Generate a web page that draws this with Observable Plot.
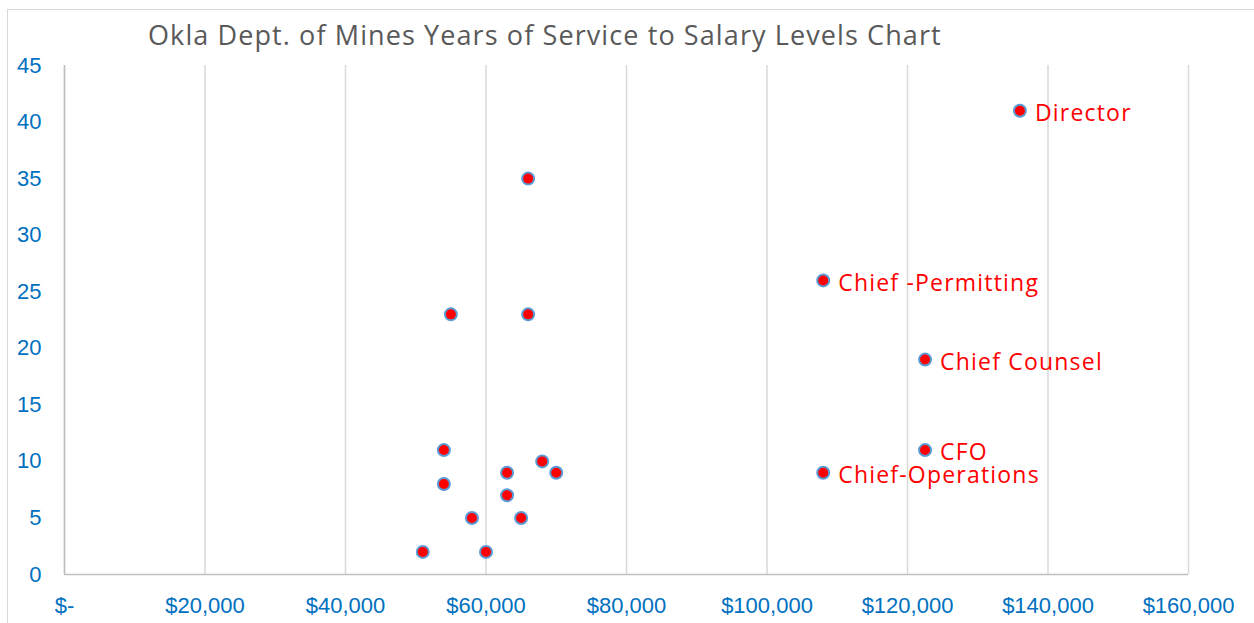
<!DOCTYPE html>
<html>
<head>
<meta charset="utf-8">
<script src="https://cdn.jsdelivr.net/npm/d3@7"></script>
<script src="https://cdn.jsdelivr.net/npm/@observablehq/plot@0.6"></script>
<style>
  html, body { margin: 0; padding: 0; background: #fff; overflow: hidden; }
  #frame { position: absolute; left: 7px; top: 9px; width: 1260px; height: 630px; border: 1px solid #d9d9d9; box-sizing: border-box; }
  #wrap { position: relative; width: 1254px; height: 623px; }
  #title { height: 50px; box-sizing: border-box; padding-left: 148px; padding-top: 19px; font-family: "Open Sans", sans-serif; font-size: 27px; letter-spacing: 1.1px; line-height: 32px; color: #595959; white-space: nowrap; }
  #chart svg { display: block; }
</style>
</head>
<body>
<div id="wrap">
  <div id="frame"></div>
  <div id="title">Okla Dept. of Mines Years of Service to Salary Levels Chart</div>
  <div id="chart"></div>
</div>
<script>
// Data
const salaries = [51000, 60000, 58000, 65000, 63000, 54000, 63000, 70000, 68000, 54000, 55000, 66000, 66000, 108000, 122500, 122500, 108000, 136000];
const years    = [2, 2, 5, 5, 7, 8, 9, 9, 10, 11, 23, 23, 35, 9, 11, 19, 26, 41];
const labels   = ["", "", "", "", "", "", "", "", "", "", "", "", "", "Chief-Operations", "CFO", "Chief Counsel", "Chief -Permitting", "Director"];
const xTicks = [0, 20000, 40000, 60000, 80000, 100000, 120000, 140000, 160000];
const yTicks = [0, 5, 10, 15, 20, 25, 30, 35, 40, 45];

const data = salaries.map((s, i) => ({salary: s, years: years[i], label: labels[i]}));
const fmtX = v => v === 0 ? "$-" : "$" + d3.format(",")(v);

const chart = Plot.plot({
  width: 1254,
  height: 573,
  marginLeft: 64,
  marginRight: 66,
  marginTop: 15,
  marginBottom: 49,
  style: {background: "transparent", overflow: "visible"},
  x: {domain: [0, 160000], ticks: xTicks, tickFormat: fmtX, label: null},
  y: {domain: [0, 45], ticks: yTicks, label: null},
  marks: [
    Plot.gridX(xTicks, {stroke: "#d9d9d9", strokeOpacity: 1, strokeWidth: 1.5}),
    Plot.ruleY([0], {stroke: "#bfbfbf", strokeWidth: 1.5}),
    Plot.ruleX([0], {stroke: "#bfbfbf", strokeWidth: 1.5}),
    Plot.axisX({ticks: xTicks, tickFormat: fmtX, tickSize: 0, tickPadding: 23, fill: "#0070c0", fontSize: 22, fontFamily: "Liberation Sans, Arial, sans-serif", label: null}),
    Plot.axisY({ticks: yTicks, tickSize: 0, tickPadding: 23, fill: "#0070c0", fontSize: 22, fontFamily: "Liberation Sans, Arial, sans-serif", label: null}),
    Plot.dot(data, {x: "salary", y: "years", r: 6, fill: "#ff0000", stroke: "#5b9bd5", strokeWidth: 2}),
    Plot.text(data.filter(d => d.label), {x: "salary", y: "years", text: "label", textAnchor: "start", dx: 15, dy: 3, fill: "#ff0000", fontSize: 23, fontFamily: "Open Sans, sans-serif", style: {letterSpacing: "1.2px"}})
  ]
});
chart.querySelectorAll("text").forEach(t => {});
document.getElementById("chart").appendChild(chart);
// apply letter spacing to label texts
d3.select(chart).selectAll("g[aria-label='text'] text").style("letter-spacing", "1.2px");
</script>
</body>
</html>
